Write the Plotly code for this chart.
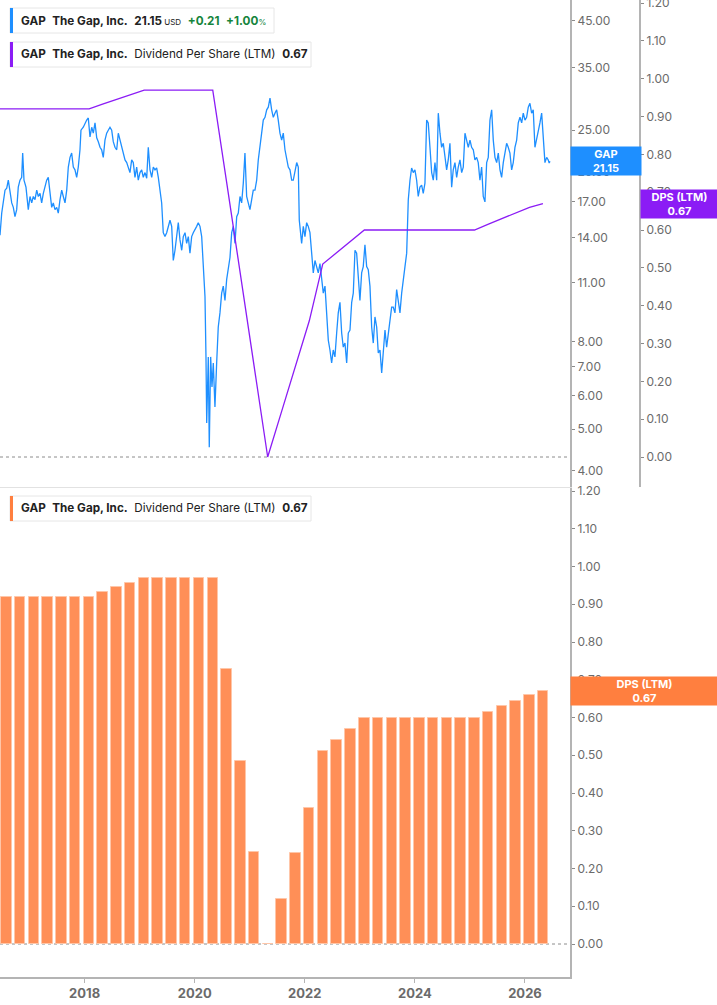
import numpy as np
import pandas as pd
import plotly.graph_objects as go

W, H = 717, 1005

# ---------------- data ----------------
# GAP share price (USD), time as decimal year
price_years = [
    2016.463, 2016.494, 2016.554, 2016.585, 2016.614, 2016.645, 2016.676, 2016.705, 2016.735, 2016.766,
    2016.795, 2016.826, 2016.857, 2016.875, 2016.899, 2016.935, 2016.948, 2016.977, 2017.008, 2017.039,
    2017.068, 2017.099, 2017.130, 2017.159, 2017.190, 2017.220, 2017.250, 2017.280, 2017.311, 2017.340,
    2017.371, 2017.402, 2017.431, 2017.462, 2017.493, 2017.522, 2017.553, 2017.584, 2017.613, 2017.644,
    2017.675, 2017.704, 2017.735, 2017.765, 2017.795, 2017.825, 2017.856, 2017.885, 2017.916, 2017.934,
    2017.976, 2018.007, 2018.038, 2018.067, 2018.098, 2018.129, 2018.158, 2018.189, 2018.220, 2018.249,
    2018.280, 2018.310, 2018.339, 2018.370, 2018.401, 2018.430, 2018.461, 2018.492, 2018.521, 2018.552,
    2018.583, 2018.612, 2018.643, 2018.674, 2018.703, 2018.734, 2018.765, 2018.794, 2018.824, 2018.855,
    2018.884, 2018.915, 2018.946, 2018.975, 2019.006, 2019.037, 2019.066, 2019.097, 2019.128, 2019.157,
    2019.188, 2019.219, 2019.248, 2019.279, 2019.309, 2019.339, 2019.369, 2019.400, 2019.429, 2019.460,
    2019.491, 2019.520, 2019.551, 2019.582, 2019.611, 2019.642, 2019.673, 2019.702, 2019.733, 2019.764,
    2019.793, 2019.824, 2019.854, 2019.884, 2019.914, 2019.945, 2019.974, 2020.005, 2020.036, 2020.065,
    2020.096, 2020.127, 2020.156, 2020.187, 2020.205, 2020.218, 2020.247, 2020.265, 2020.290, 2020.314,
    2020.338, 2020.368, 2020.399, 2020.428, 2020.459, 2020.490, 2020.519, 2020.550, 2020.581, 2020.610,
    2020.641, 2020.672, 2020.701, 2020.732, 2020.763, 2020.792, 2020.823, 2020.853, 2020.883, 2020.913,
    2020.944, 2020.973, 2021.004, 2021.035, 2021.064, 2021.095, 2021.126, 2021.155, 2021.186, 2021.217,
    2021.246, 2021.277, 2021.308, 2021.337, 2021.368, 2021.398, 2021.428, 2021.458, 2021.489, 2021.518,
    2021.549, 2021.580, 2021.609, 2021.640, 2021.671, 2021.700, 2021.731, 2021.762, 2021.791, 2021.822,
    2021.853, 2021.882, 2021.900, 2021.943, 2021.973, 2022.003, 2022.034, 2022.063, 2022.094, 2022.125,
    2022.154, 2022.185, 2022.216, 2022.245, 2022.276, 2022.307, 2022.336, 2022.367, 2022.397, 2022.427,
    2022.457, 2022.488, 2022.517, 2022.548, 2022.579, 2022.608, 2022.639, 2022.670, 2022.699, 2022.730,
    2022.761, 2022.790, 2022.821, 2022.852, 2022.881, 2022.912, 2022.942, 2022.972, 2023.002, 2023.033,
    2023.062, 2023.093, 2023.124, 2023.153, 2023.184, 2023.215, 2023.244, 2023.275, 2023.306, 2023.335,
    2023.366, 2023.397, 2023.426, 2023.457, 2023.487, 2023.517, 2023.547, 2023.578, 2023.607, 2023.638,
    2023.669, 2023.698, 2023.729, 2023.760, 2023.789, 2023.820, 2023.851, 2023.880, 2023.911, 2023.941,
    2023.971, 2024.001, 2024.032, 2024.061, 2024.092, 2024.123, 2024.152, 2024.183, 2024.214, 2024.243,
    2024.274, 2024.305, 2024.334, 2024.365, 2024.396, 2024.425, 2024.456, 2024.486, 2024.516, 2024.546,
    2024.577, 2024.606, 2024.637, 2024.668, 2024.697, 2024.728, 2024.759, 2024.788, 2024.819, 2024.850,
    2024.879, 2024.910, 2024.941, 2024.970, 2025.001, 2025.031, 2025.061, 2025.091, 2025.122, 2025.151,
    2025.182, 2025.213, 2025.242, 2025.273, 2025.304, 2025.333, 2025.364, 2025.395, 2025.424, 2025.455,
    2025.486, 2025.515, 2025.546, 2025.576, 2025.606, 2025.636, 2025.667, 2025.696, 2025.727, 2025.758,
    2025.787, 2025.818, 2025.849, 2025.878, 2025.909, 2025.940, 2025.969, 2026.000, 2026.030, 2026.060,
    2026.090, 2026.121, 2026.150, 2026.181, 2026.212, 2026.241, 2026.272, 2026.303, 2026.332, 2026.363,
    2026.394, 2026.423, 2026.440, 2026.454,
]
price_values = [
    14.2, 16.0, 18.1, 18.3, 19.1, 17.8, 16.9, 16.5, 15.7, 16.3,
    18.4, 19.1, 19.4, 22.1, 19.1, 18.4, 17.5, 16.3, 17.5, 16.9,
    17.5, 17.2, 18.1, 17.5, 17.8, 16.9, 17.8, 18.4, 19.1, 19.4,
    18.1, 16.5, 16.9, 16.3, 16.5, 16.0, 17.2, 18.1, 17.5, 16.9,
    18.1, 20.5, 21.6, 22.1, 20.5, 20.2, 19.4, 20.5, 22.5, 25.0,
    25.4, 26.0, 26.4, 26.7, 24.1, 25.4, 24.6, 26.0, 24.0, 23.5,
    22.8, 22.5, 21.6, 23.7, 24.6, 25.0, 25.4, 25.0, 23.5, 22.8,
    22.5, 24.6, 23.7, 22.8, 22.1, 21.3, 21.0, 20.5, 19.9, 21.3,
    21.0, 19.4, 20.5, 19.1, 19.9, 20.2, 19.4, 19.9, 19.3, 22.8,
    20.2, 19.4, 20.5, 20.2, 20.4, 19.4, 18.1, 16.9, 14.4, 14.1,
    14.4, 14.9, 15.4, 14.9, 12.4, 13.1, 14.1, 15.2, 13.85, 13.1,
    14.1, 14.4, 13.6, 14.1, 12.9, 14.1, 14.4, 14.6, 14.9, 15.2,
    14.9, 14.1, 11.8, 10.2, 7.38, 5.17, 7.38, 4.54, 7.38, 6.28,
    7.14, 5.64, 7.14, 8.67, 9.35, 10.4, 10.8, 10.0, 11.2, 12.0,
    12.6, 14.4, 14.9, 13.6, 15.7, 16.0, 17.5, 16.9, 18.8, 22.1,
    17.5, 16.9, 16.3, 17.2, 18.1, 18.1, 19.1, 21.3, 22.8, 25.0,
    26.4, 26.8, 27.9, 28.3, 29.7, 27.9, 26.8, 27.4, 27.9, 26.4,
    24.6, 23.7, 24.6, 22.5, 21.6, 20.5, 20.2, 19.1, 19.1, 20.2,
    21.0, 20.5, 15.4, 13.6, 14.9, 14.1, 15.2, 14.9, 14.4, 12.9,
    11.6, 12.4, 12.0, 11.6, 12.2, 11.2, 10.4, 10.8, 9.35, 8.08,
    7.66, 7.14, 7.66, 7.38, 8.39, 9.35, 9.9, 8.39, 7.78, 7.95,
    7.14, 8.39, 8.53, 9.9, 10.4, 13.1, 12.9, 11.3, 10.0, 11.6,
    12.0, 13.5, 12.0, 11.8, 10.8, 8.67, 7.95, 9.15, 8.67, 7.54,
    7.66, 6.77, 7.78, 8.53, 7.78, 8.39, 9.0, 9.65, 9.65, 9.35,
    10.6, 10.0, 9.35, 10.4, 11.3, 12.0, 12.9, 17.2, 19.1, 20.4,
    19.9, 20.2, 19.1, 17.5, 18.4, 18.6, 17.8, 18.8, 26.4, 26.0,
    22.8, 19.9, 19.1, 21.0, 19.1, 27.4, 24.6, 22.8, 23.3, 21.3,
    20.2, 21.3, 23.3, 18.4, 20.2, 21.0, 19.4, 20.5, 21.3, 19.9,
    20.5, 24.6, 23.7, 22.8, 23.7, 22.8, 22.5, 21.3, 21.6, 21.0,
    19.1, 20.5, 17.5, 17.0, 21.0, 21.6, 26.4, 27.9, 23.7, 21.6,
    21.0, 22.1, 20.2, 19.4, 21.0, 22.1, 23.3, 22.8, 22.1, 20.2,
    21.0, 22.8, 23.7, 26.0, 26.8, 26.0, 27.4, 26.4, 26.8, 28.3,
    28.9, 27.4, 27.9, 22.8, 23.7, 25.0, 26.0, 27.4, 24.6, 21.0,
    21.6, 21.3, 20.94, 21.15,
]

# Dividend per share, last twelve months (quarter-end dates)
dps_dates = [
    "2016-04-30", "2016-07-31", "2016-10-31", "2017-01-31", "2017-04-30", "2017-07-31",
    "2017-10-31", "2018-01-31", "2018-04-30", "2018-07-31", "2018-10-31", "2019-01-31",
    "2019-04-30", "2019-07-31", "2019-10-31", "2020-01-31", "2020-04-30", "2020-07-31",
    "2020-10-31", "2021-01-31", "2021-04-30", "2021-07-31", "2021-10-31", "2022-01-31",
    "2022-04-30", "2022-07-31", "2022-10-31", "2023-01-31", "2023-04-30", "2023-07-31",
    "2023-10-31", "2024-01-31", "2024-04-30", "2024-07-31", "2024-10-31", "2025-01-31",
    "2025-04-30", "2025-07-31", "2025-10-31", "2026-01-31", "2026-04-30",
]
dps_values = [
    0.92, 0.92, 0.92, 0.92, 0.92, 0.92,
    0.92, 0.92, 0.9325, 0.945, 0.9575, 0.97,
    0.97, 0.97, 0.97, 0.97, 0.97, 0.7275,
    0.485, 0.2425, 0.0, 0.12, 0.24, 0.36,
    0.51, 0.54, 0.57, 0.60, 0.60, 0.60,
    0.60, 0.60, 0.60, 0.60, 0.60, 0.60,
    0.615, 0.63, 0.645, 0.66, 0.67,
]

x_tick_years = [2018, 2020, 2022, 2024, 2026]
price_ticks = [4, 5, 6, 7, 8, 11, 14, 17, 20, 25, 35, 45]
last_price = 21.15
price_change = 0.21
price_change_pct = 1.00
last_dps = 0.67

# ---------------- helpers ----------------
def to_year(d):
    ts = pd.Timestamp(d)
    days = 366 if ts.is_leap_year else 365
    return ts.year + (ts.dayofyear - 1) / days

dps_years = [to_year(d) for d in dps_dates]

def fx(px):
    return px / W

def fy(py):
    return 1 - py / H

BLUE = "#1E8FFF"
PURPLE = "#8B1CF5"
ORANGE_BAR = "#FF8F57"
ORANGE_BOX = "#FF7F3F"
AXIS = "#B4B4B4"
TICKC = "#6B6B6B"
FONT = "Inter, Roboto, sans-serif"

PLOT_R = 570
TOP_BOTTOM = 487
BOT_TOP = 488
BOT_BOTTOM = 976.8

fig = go.Figure()
fig.add_trace(go.Scatter(x=price_years, y=price_values, mode="lines",
                         line=dict(color=BLUE, width=1.3), xaxis="x2", yaxis="y",
                         hoverinfo="skip"))
fig.add_trace(go.Scatter(x=dps_years, y=dps_values, mode="lines",
                         line=dict(color=PURPLE, width=1.3), xaxis="x2", yaxis="y2",
                         hoverinfo="skip"))
fig.add_trace(go.Bar(x=dps_years, y=dps_values, width=0.187,
                     marker=dict(color=ORANGE_BAR, line=dict(color="#FFC6A8", width=1)),
                     xaxis="x", yaxis="y3", hoverinfo="skip"))

xr = [2016.463, 2026.818]
tickfont = dict(family=FONT, size=12, color=TICKC)

common_y = dict(showline=True, linecolor=AXIS, linewidth=2, ticks="outside", ticklen=3,
                tickwidth=1, tickcolor="#8A8A8A", tickfont=tickfont, showgrid=False,
                zeroline=False, automargin=False, fixedrange=True,
                ticklabeloverflow="allow")

fig.update_layout(
    width=W, height=H, margin=dict(l=0, r=0, t=0, b=0),
    template="none", paper_bgcolor="white", plot_bgcolor="white",
    showlegend=False, bargap=0,
    xaxis=dict(domain=[0, fx(PLOT_R)], range=xr, anchor="y3", showline=True,
               linecolor=AXIS, linewidth=2, tickvals=x_tick_years,
               ticktext=[f"<b>{y}</b>" for y in x_tick_years], ticks="outside",
               ticklen=4, tickcolor=AXIS, tickfont=dict(family=FONT, size=13, color=TICKC),
               showgrid=False, zeroline=False, automargin=False, fixedrange=True),
    xaxis2=dict(domain=[0, fx(PLOT_R)], range=xr, anchor="y", showline=True,
                linecolor="#E2E2E2", linewidth=1, showticklabels=False, ticks="",
                showgrid=False, zeroline=False, automargin=False, fixedrange=True),
    yaxis=dict(domain=[fy(TOP_BOTTOM), 1], type="log", side="right", anchor="x2",
               range=[np.log10(3.664), np.log10(50.38)], tickvals=price_ticks,
               ticktext=[f"{v:.2f}" for v in price_ticks], **common_y),
    yaxis2=dict(overlaying="y", side="right", anchor="free", position=fx(640),
                range=[-0.0793, 1.208], tick0=0, dtick=0.1, tickformat=".2f", **common_y),
    yaxis3=dict(domain=[fy(BOT_BOTTOM), fy(BOT_TOP)], side="right", anchor="x",
                range=[-0.0869, 1.208], tick0=0, dtick=0.1, tickformat=".2f", **common_y),
)

shapes = [
    dict(type="line", xref="paper", x0=0, x1=fx(PLOT_R), yref="y2", y0=0, y1=0,
         line=dict(color="#8C8C8C", width=1, dash="dot"), layer="below"),
    dict(type="line", xref="paper", x0=0, x1=fx(PLOT_R), yref="y3", y0=0, y1=0,
         line=dict(color="#8C8C8C", width=1, dash="dot"), layer="below"),
]
legend_boxes = [
    (10, 274, 8, 33, BLUE),
    (10, 311, 42, 67, PURPLE),
    (10, 311, 496, 521, ORANGE_BOX),
]
for x0, x1, y0, y1, c in legend_boxes:
    shapes.append(dict(type="rect", xref="paper", yref="paper", x0=fx(x0), x1=fx(x1),
                       y0=fy(y1), y1=fy(y0), line=dict(color="#E6E6E6", width=1),
                       fillcolor="rgba(255,255,255,0.92)", layer="above"))
    shapes.append(dict(type="rect", xref="paper", yref="paper", x0=fx(x0), x1=fx(x0 + 3),
                       y0=fy(y1), y1=fy(y0), line=dict(width=0), fillcolor=c, layer="above"))
fig.update_layout(shapes=shapes)

S = "\u00a0"
dark = "#222222"
green = "#15853C"
leg1 = (f"<b>GAP</b>{S*2}<b>The Gap, Inc.</b>{S*2}<b>{last_price:.2f}</b>"
        f"<span style='font-size:8px'>{S}USD</span>{S*2}"
        f"<span style='color:{green}'><b>+{price_change:.2f}</b>{S*2}<b>+{price_change_pct:.2f}</b></span>"
        f"<span style='color:{green};font-size:8px'>%</span>")
leg2 = (f"<b>GAP</b>{S*2}<b>The Gap, Inc.</b>{S*2}Dividend Per Share (LTM){S*2}"
        f"<b>{last_dps:.2f}</b>")

LEG_SIZE = 11.7
annotations = [
    dict(text=leg1, xref="paper", yref="paper", x=fx(19), y=fy(20.5), xanchor="left",
         yanchor="middle", showarrow=False, font=dict(family=FONT, size=LEG_SIZE, color=dark)),
    dict(text=leg2, xref="paper", yref="paper", x=fx(19), y=fy(54.5), xanchor="left",
         yanchor="middle", showarrow=False, font=dict(family=FONT, size=LEG_SIZE, color=dark)),
    dict(text=leg2, xref="paper", yref="paper", x=fx(19), y=fy(508.5), xanchor="left",
         yanchor="middle", showarrow=False, font=dict(family=FONT, size=LEG_SIZE, color=dark)),
    # last value labels
    dict(text=f"<b>GAP</b><br><b>{last_price:.2f}</b>", xref="paper", x=fx(PLOT_R),
         xanchor="left", yref="y", y=np.log10(last_price), yanchor="middle",
         width=70, height=28, borderpad=0, bgcolor=BLUE, showarrow=False, align="center",
         font=dict(family=FONT, size=11, color="white")),
    dict(text=f"<b>DPS (LTM)</b><br><b>{last_dps:.2f}</b>", xref="paper", x=fx(640),
         xanchor="left", yref="y2", y=last_dps, yanchor="middle",
         width=77, height=28, borderpad=0, bgcolor=PURPLE, showarrow=False, align="center",
         font=dict(family=FONT, size=11, color="white")),
    dict(text=f"<b>DPS (LTM)</b><br><b>{last_dps:.2f}</b>", xref="paper", x=fx(PLOT_R),
         xanchor="left", yref="y3", y=last_dps, yanchor="middle",
         width=147, height=28, borderpad=0, bgcolor=ORANGE_BOX, showarrow=False, align="center",
         font=dict(family=FONT, size=11, color="white")),
]
fig.update_layout(annotations=annotations)

fig.write_html("out.html", config={"displayModeBar": False})
